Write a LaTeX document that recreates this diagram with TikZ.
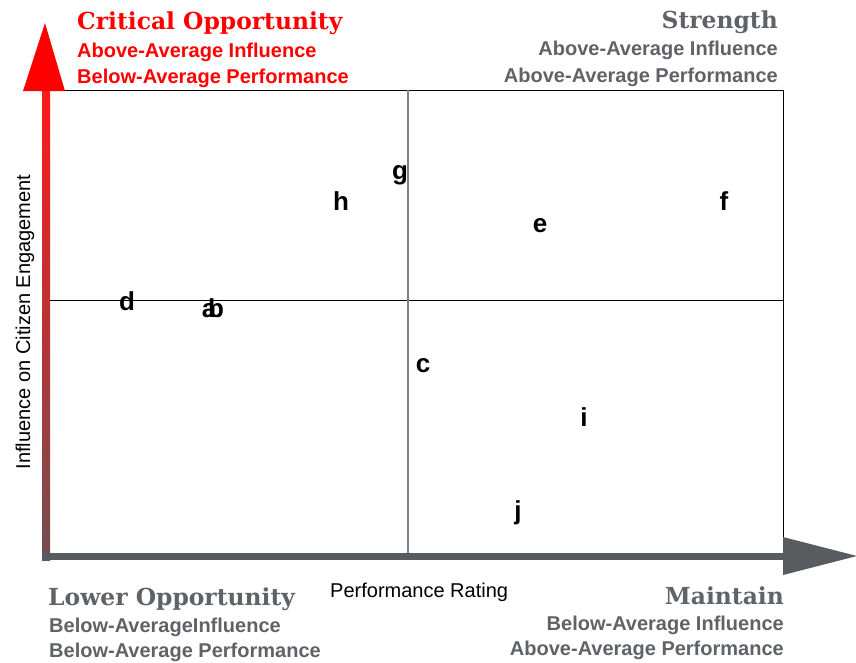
\documentclass[tikz,border=0pt]{standalone}
\usepackage{fontspec}
\setmainfont{Liberation Sans}
\newfontfamily\headserif{DejaVu Serif}
\usetikzlibrary{shadings}
\definecolor{axisgrey}{HTML}{595C5F}
\definecolor{txtgrey}{HTML}{5F6266}
\definecolor{midgrey}{HTML}{808080}
\tikzset{
  head/.style={font=\headserif\bfseries\fontsize{23.4}{26}\selectfont, inner sep=0pt},
  sub/.style={font=\bfseries\fontsize{20}{22}\selectfont, inner sep=0pt},
  pt/.style={font=\bfseries\fontsize{26}{28}\selectfont, inner sep=0pt, anchor=base},
  axlabel/.style={font=\fontsize{20}{22}\selectfont, inner sep=0pt},
}
\begin{document}
\begin{tikzpicture}[x=1pt,y=-1pt]
\useasboundingbox (0,0) rectangle (856,662);
% box lines
\coordinate (tl) at (50,90);
\coordinate (tr) at (783,90);
\coordinate (br) at (783,553);
\coordinate (mt) at (408,90);
\coordinate (mb) at (408,553);
\coordinate (ml) at (50,300);
\coordinate (mr) at (783,300);
\draw[line width=1pt,black] (tl) -- (tr) -- (br);
\draw[line width=1pt,black] (ml) -- (mr);
\draw[line width=2pt,midgrey] (mt) -- (mb);
% vertical axis (gradient shaft + red head)
\shade[top color=red!90!white, bottom color=axisgrey!85!red] (42,91) rectangle (50,560);
\fill[red] (45,23) -- (65,91) -- (23,91) -- cycle;
% horizontal axis
\fill[axisgrey] (42,553) rectangle (784,560);
\fill[axisgrey] (783,537) -- (857,556) -- (783,575) -- cycle;
% axis labels
\node[axlabel, anchor=base west] (xl) at (330,597) {Performance Rating};
\node[axlabel, anchor=base, rotate=90] (yl) at (30,322) {Influence on Citizen Engagement};
% quadrant titles
\node[head, red, anchor=base west] (co) at (77,29) {Critical Opportunity};
\node[sub, red, anchor=base west] (co1) at (77,57) {Above-Average Influence};
\node[sub, red, anchor=base west] (co2) at (77,83) {Below-Average Performance};
\node[head, txtgrey, anchor=base east] (st) at (778,28) {Strength};
\node[sub, txtgrey, anchor=base east] (st1) at (778,55) {Above-Average Influence};
\node[sub, txtgrey, anchor=base east] (st2) at (778,82) {Above-Average Performance};
\node[head, txtgrey, anchor=base west] (lo) at (48,605) {Lower Opportunity};
\node[sub, txtgrey, anchor=base west] (lo1) at (49,632) {Below-AverageInfluence};
\node[sub, txtgrey, anchor=base west] (lo2) at (49,657) {Below-Average Performance};
\node[head, txtgrey, anchor=base east] (ma) at (784,604) {Maintain};
\node[sub, txtgrey, anchor=base east] (ma1) at (784,630) {Below-Average Influence};
\node[sub, txtgrey, anchor=base east] (ma2) at (784,655) {Above-Average Performance};
% data points
\node[pt] (g) at (400,179) {g};
\node[pt] (h) at (341,210) {h};
\node[pt] (e) at (540,232) {e};
\node[pt] (f) at (724,210) {f};
\node[pt] (d) at (127,310) {d};
\node[pt] (a) at (209,317) {a};
\node[pt] (b) at (216,317) {b};
\node[pt] (c) at (423,372) {c};
\node[pt] (i) at (584,426) {i};
\node[pt] (j) at (518,519) {j};
\end{tikzpicture}
\end{document}
